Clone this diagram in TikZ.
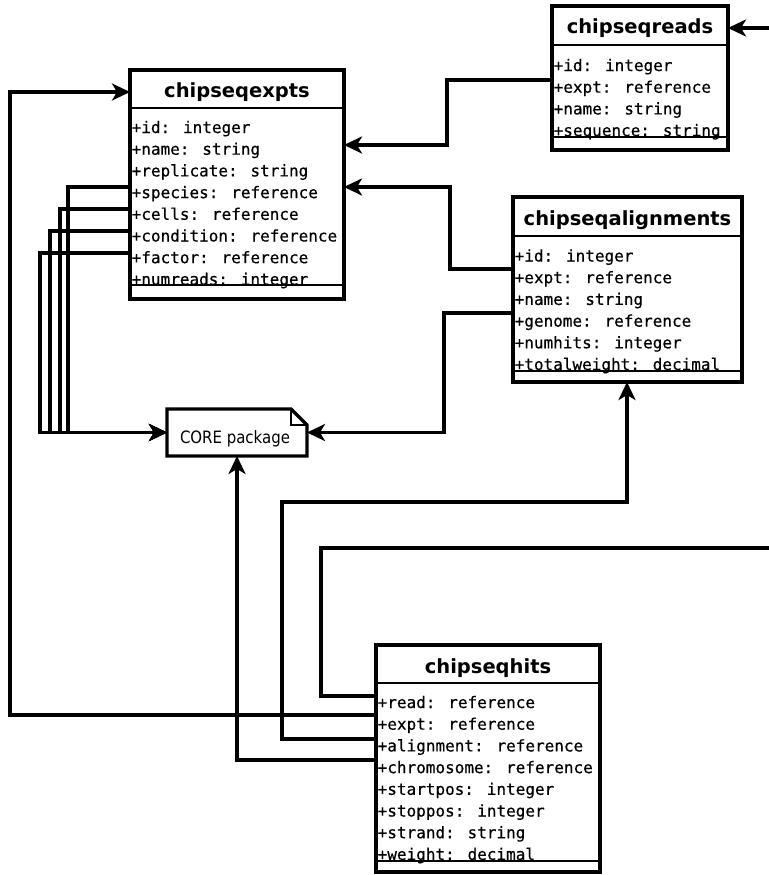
\documentclass[tikz,border=0pt]{standalone}
\usepackage{fontspec}
\newfontfamily\monof[FakeBold=0.5]{DejaVu Sans Mono}
\newfontfamily\sansf{DejaVu Sans}
\newfontfamily\notef[FakeStretch=0.88]{DejaVu Sans}
\usetikzlibrary{arrows.meta,calc}
\begin{document}
\begin{tikzpicture}[x=1pt,y=-1pt,
  classbox/.style={draw, line width=3.2pt, inner sep=0pt, outer sep=0pt, fill=white},
  sepline/.style={line width=2.8pt},
  attr/.style={anchor=base west, inner sep=0pt, font=\monof\fontsize{16}{19}\selectfont},
  ctitle/.style={anchor=base, inner sep=0pt, font=\sansf\bfseries\fontsize{19.5}{23}\selectfont},
  conn/.style={line width=3.2pt, -{Stealth[length=18pt,width=17pt,inset=5pt]}},
  plainconn/.style={line width=3.2pt},
]
\fill[white] (0,0) rectangle (769,875);
\useasboundingbox (0,0) rectangle (769,875);

% ---------- chipseqreads ----------
\node[classbox, anchor=north west, minimum width=176pt, minimum height=144pt] (reads) at (552,6) {};
\draw[sepline] (552,45) -- (728,45);
\draw[sepline] (552,137) -- (728,137);
\node[ctitle] (reads-t) at (640,34) {chipseqreads};
\foreach \t [count=\i from 0] in {+id: integer, +expt: reference, +name: string, +sequence: string}
  \node[attr] (reads-r\i) at (553.5,71+21.7*\i) {\t};

% ---------- chipseqexpts ----------
\node[classbox, anchor=north west, minimum width=214pt, minimum height=229pt] (expts) at (130,70) {};
\draw[sepline] (130,108) -- (344,108);
\draw[sepline] (130,285) -- (344,285);
\node[ctitle] (expts-t) at (237,97) {chipseqexpts};
\foreach \t [count=\i from 0] in {+id: integer, +name: string, +replicate: string, +species: reference, +cells: reference, +condition: reference, +factor: reference, +numreads: integer}
  \node[attr] (expts-r\i) at (131.5,133+21.7*\i) {\t};

% ---------- chipseqalignments ----------
\node[classbox, anchor=north west, minimum width=229pt, minimum height=185pt] (aligns) at (513,197) {};
\draw[sepline] (513,236) -- (742,236);
\draw[sepline] (513,371) -- (742,371);
\node[ctitle] (aligns-t) at (627.5,225) {chipseqalignments};
\foreach \t [count=\i from 0] in {+id: integer, +expt: reference, +name: string, +genome: reference, +numhits: integer, +totalweight: decimal}
  \node[attr] (aligns-r\i) at (514.5,261.5+21.7*\i) {\t};

% ---------- chipseqhits ----------
\node[classbox, anchor=north west, minimum width=224pt, minimum height=227pt] (hits) at (376,645) {};
\draw[sepline] (376,683) -- (600,683);
\draw[sepline] (376,861) -- (600,861);
\node[ctitle] (hits-t) at (488,673) {chipseqhits};
\foreach \t [count=\i from 0] in {+read: reference, +expt: reference, +alignment: reference, +chromosome: reference, +startpos: integer, +stoppos: integer, +strand: string, +weight: decimal}
  \node[attr] (hits-r\i) at (377.5,708+21.7*\i) {\t};

% ---------- CORE package (note) ----------
\node[inner sep=0pt, outer sep=0pt, minimum width=140pt, minimum height=47pt] (core) at (237,432.5) {};
\draw[line width=3.2pt, fill=white, line join=miter]
  (core.north west) -- ([xshift=-16pt]core.north east) -- ([yshift=-16pt]core.north east)
  -- (core.south east) -- (core.south west) -- cycle;
\draw[line width=1.8pt] ([xshift=-16pt]core.north east) |- ([yshift=-16pt]core.north east);
\node[anchor=base, inner sep=0pt, font=\notef\fontsize{17}{20}\selectfont] (core-t) at (235,443) {CORE package};

% ---------- attachment points ----------
\coordinate (h-read) at (376,696);
\coordinate (h-expt) at (376,715);
\coordinate (h-align) at (376,739);
\coordinate (h-chrom) at (376,760);
\coordinate (x-species) at (130,187);
\coordinate (x-cells) at (130,209);
\coordinate (x-cond) at (130,231);
\coordinate (x-factor) at (130,253);
\coordinate (x-in1) at (130,92);
\coordinate (x-in2) at (344,145);
\coordinate (x-in3) at (344,187);
\coordinate (r-expt) at (552,80);
\coordinate (r-in) at (728,28);
\coordinate (r-edge) at (769,28);
\coordinate (a-expt) at (513,269);
\coordinate (a-genome) at (513,313);
\coordinate (a-in) at (627,382);
\coordinate (e-edge) at (769,548);

% ---------- connectors ----------
\draw[conn] (h-expt) -- (10,715) |- (x-in1);
\draw[conn] (h-chrom) -| (core.south);
\draw[conn] (h-align) -| (282,502) -| (a-in);
\draw[plainconn] (h-read) -| (321,548) -- (e-edge);
\draw[conn] (r-edge) -- (r-in);
\draw[conn] (r-expt) -| (447,145) -- (x-in2);
\draw[conn] (a-expt) -| (450,187) -- (x-in3);
\draw[conn] (a-genome) -| (444,432.5) -- (core.east);
\draw[conn] (x-species) -| (68,432.5) -- (core.west);
\draw[conn] (x-cells) -| (60,432.5) -- (core.west);
\draw[conn] (x-cond) -| (50,432.5) -- (core.west);
\draw[conn] (x-factor) -| (40,432.5) -- (core.west);
\end{tikzpicture}
\end{document}
